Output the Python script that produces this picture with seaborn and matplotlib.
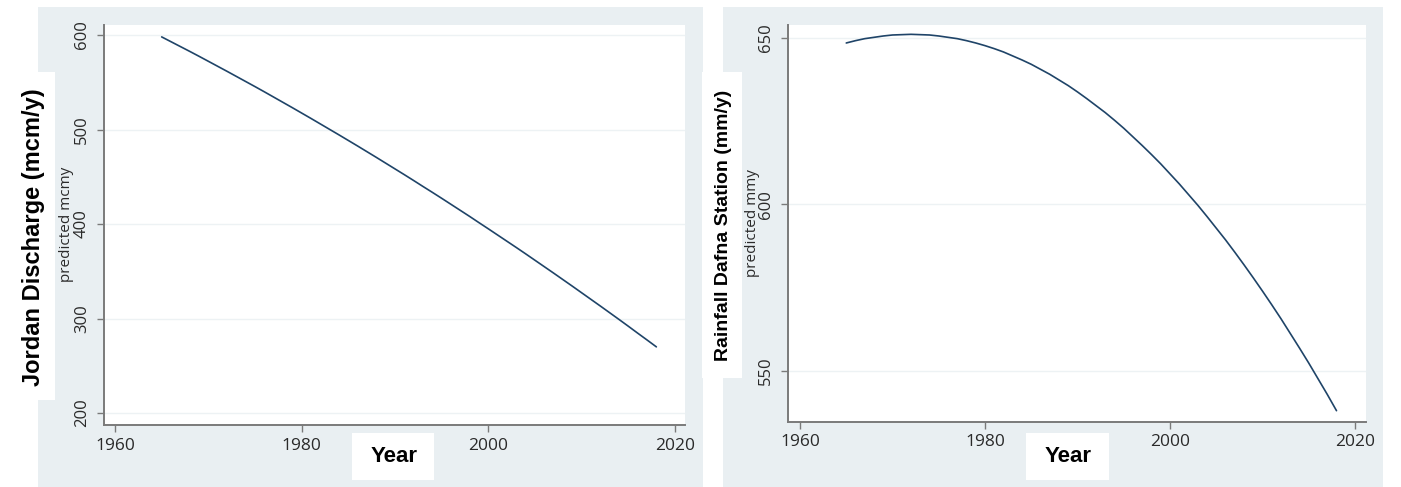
import matplotlib
matplotlib.use("Agg")
import matplotlib.pyplot as plt
from matplotlib.patches import Rectangle
import seaborn as sns
import pandas as pd

# Predicted annual values, 1965-2018
years = list(range(1965, 2019))

discharge_mcmy = [
    598.0, 592.9, 587.8, 582.7, 577.5, 572.2, 566.9, 561.6, 556.2, 550.8,
    545.4, 539.9, 534.3, 528.7, 523.1, 517.4, 511.7, 505.9, 500.1, 494.3,
    488.4, 482.5, 476.5, 470.5, 464.4, 458.3, 452.2, 446.0, 439.7, 433.5,
    427.2, 420.8, 414.4, 408.0, 401.4, 394.9, 388.3, 381.7, 375.1, 368.4,
    361.6, 354.8, 348.0, 341.1, 334.2, 327.2, 320.2, 313.2, 306.1, 299.0,
    291.8, 284.5, 277.3, 270.0,
]

rainfall_mmy = [
    648.4, 649.1, 649.7, 650.1, 650.5, 650.8, 650.9, 651.0, 650.9, 650.8,
    650.5, 650.1, 649.7, 649.1, 648.4, 647.6, 646.7, 645.7, 644.5, 643.3,
    642.0, 640.5, 639.0, 637.3, 635.6, 633.7, 631.7, 629.6, 627.5, 625.2,
    622.8, 620.2, 617.6, 614.9, 612.1, 609.1, 606.1, 602.9, 599.7, 596.3,
    592.8, 589.3, 585.6, 581.8, 577.9, 573.9, 569.8, 565.6, 561.2, 556.8,
    552.3, 547.6, 542.9, 538.0,
]

x_ticks = [1960, 1980, 2000, 2020]
discharge_ticks = [200, 300, 400, 500, 600]
rainfall_ticks = [550, 600, 650]

sns.set_style("white")
plt.rcParams["font.family"] = ["Liberation Sans", "DejaVu Sans"]

W, H = 1401, 487
fig = plt.figure(figsize=(W / 100, H / 100), dpi=100)

BG = "#e9eff2"
LINE = "#1f4468"
AXIS = "#7a7a7a"
GRID = "#edf2f4"
TICKFONT = ["Open Sans", "DejaVu Sans"]


def box(x0, y0, x1, y1, color, z):
    fig.patches.append(Rectangle((x0 / W, 1 - y1 / H), (x1 - x0) / W, (y1 - y0) / H,
                                 transform=fig.transFigure, facecolor=color,
                                 edgecolor="none", zorder=z))


def axes_px(x0, y0, x1, y1):
    return fig.add_axes([x0 / W, 1 - y1 / H, (x1 - x0) / W, (y1 - y0) / H])


# panel backgrounds
box(38, 7, 703, 487, BG, -2)
box(723, 7, 1383, 487, BG, -2)

df = pd.DataFrame({"year": years, "mcmy": discharge_mcmy, "mmy": rainfall_mmy})

panels = [
    dict(rect=(104, 25, 685, 425), y="mcmy", xlim=(1958.82, 2021.07),
         ylim=(187.3, 610.6), yticks=discharge_ticks, small="predicted mcmy",
         small_xy=(66, 224)),
    dict(rect=(788, 25, 1366, 422), y="mmy", xlim=(1958.70, 2021.19),
         ylim=(534.6, 653.8), yticks=rainfall_ticks, small="predicted mmy",
         small_xy=(752, 223)),
]

for p in panels:
    ax = axes_px(*p["rect"])
    ax.set_facecolor("white")
    for yt in p["yticks"]:
        ax.axhline(yt, color=GRID, lw=1.0, zorder=0)
    sns.lineplot(data=df, x="year", y=p["y"], ax=ax, color=LINE, lw=1.2, zorder=3)
    ax.set_xlim(*p["xlim"])
    ax.set_ylim(*p["ylim"])
    ax.set_xticks(x_ticks)
    ax.set_yticks(p["yticks"])
    ax.set_xlabel("")
    ax.set_ylabel("")
    for s in ("top", "right"):
        ax.spines[s].set_visible(False)
    for s in ("left", "bottom"):
        ax.spines[s].set_color(AXIS)
        ax.spines[s].set_linewidth(1.4)
    ax.tick_params(axis="both", direction="out", length=5, width=1.0, color=AXIS,
                   labelcolor="#2a2a2a", left=True, bottom=True)
    ax.tick_params(axis="x", pad=4)
    ax.tick_params(axis="y", pad=5)
    for lab in ax.get_xticklabels():
        lab.set_family(TICKFONT)
        lab.set_fontsize(12.5)
    for lab in ax.get_yticklabels():
        lab.set_family(TICKFONT)
        lab.set_fontsize(12)
        lab.set_rotation(90)
        lab.set_va("center")
    sx, sy = p["small_xy"]
    fig.text(sx / W, 1 - sy / H, p["small"], rotation=90, ha="center", va="center",
             fontsize=11, color="#2a2a2a", family=TICKFONT)

# overlaid axis titles on white boxes
box(0, 72, 55, 400, "white", 2)
fig.text(34 / W, 1 - 237 / H, "Jordan Discharge (mcm/y)", rotation=90, ha="center",
         va="center", fontsize=17, fontweight="bold", color="black", zorder=4)

box(702, 72, 742, 378, "white", 2)
fig.text(723 / W, 1 - 225 / H, "Rainfall Dafna Station (mm/y)", rotation=90,
         ha="center", va="center", fontsize=14, fontweight="bold", color="black",
         zorder=4)

box(352, 433, 434, 480, "white", 2)
fig.text(394 / W, 1 - 456 / H, "Year", ha="center", va="center", fontsize=16,
         fontweight="bold", color="black", zorder=4)

box(1026, 433, 1109, 480, "white", 2)
fig.text(1068 / W, 1 - 456 / H, "Year", ha="center", va="center", fontsize=16,
         fontweight="bold", color="black", zorder=4)

fig.savefig("out.png", dpi=100, facecolor="white")
